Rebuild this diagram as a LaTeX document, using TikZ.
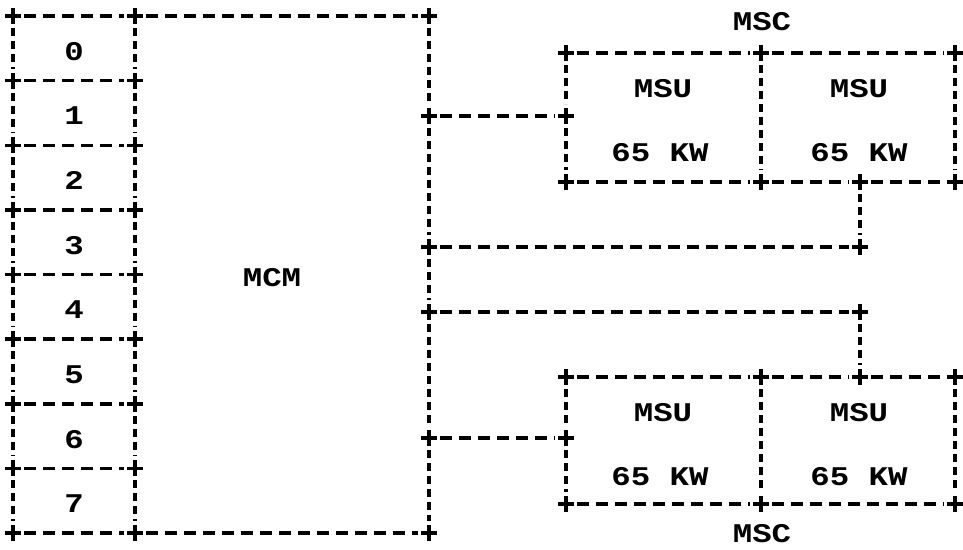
\documentclass[tikz,border=0pt]{standalone}
\usepackage{fontspec}
\newfontfamily\typefont[FakeStretch=1.2]{Liberation Mono}
\begin{document}
\begin{tikzpicture}[x=1pt,y=-1pt,
  hl/.style={line width=3.4pt, dash pattern=on 12pt off 7pt, shorten <=11pt, shorten >=11pt},
  vl/.style={line width=3.4pt, dash pattern=on 8pt off 5pt, shorten <=12pt, shorten >=12pt},
  pm/.style={line width=3.4pt},
  lbl/.style={font=\typefont\bfseries\fontsize{27}{27}\selectfont, inner sep=0pt}]
\useasboundingbox[fill=white] (0,0) rectangle (963,549);
% MCM frame and slot column
\coordinate (mtl) at (13,16);  \coordinate (stop) at (135,16);  \coordinate (mtr) at (429,16);
\coordinate (mbl) at (13,533); \coordinate (sbot) at (135,533); \coordinate (mbr) at (429,533);
\foreach \i/\y in {1/80.6,2/145.3,3/209.9,4/274.5,5/339.1,6/403.8,7/468.4}{
  \coordinate (l\i) at (13,\y); \coordinate (s\i) at (135,\y);}
% connector points on MCM
\coordinate (c1m) at (429,116); \coordinate (c2m) at (429,247);
\coordinate (c3m) at (429,312); \coordinate (c4m) at (429,438);
% top MSC
\coordinate (ttl) at (566,53);  \coordinate (ttm) at (761,53);  \coordinate (ttr) at (955,53);
\coordinate (tbl) at (566,182); \coordinate (tbm) at (761,182); \coordinate (tbc) at (860,182); \coordinate (tbr) at (955,182);
\coordinate (c1s) at (566,116); \coordinate (c2t) at (860,247);
% bottom MSC
\coordinate (btl) at (566,377); \coordinate (btm) at (761,377); \coordinate (btc) at (860,377); \coordinate (btr) at (955,377);
\coordinate (bbl) at (566,504); \coordinate (bbm) at (761,504); \coordinate (bbr) at (955,504);
\coordinate (c4s) at (566,438); \coordinate (c3t) at (860,312);

% horizontal dashed lines
\foreach \a/\b in {mtl/stop,stop/mtr,mbl/sbot,sbot/mbr,l1/s1,l2/s2,l3/s3,l4/s4,l5/s5,l6/s6,l7/s7,
  c1m/c1s,c2m/c2t,c3m/c3t,c4m/c4s,
  ttl/ttm,ttm/ttr,tbl/tbm,tbm/tbc,tbc/tbr,
  btl/btm,btm/btc,btc/btr,bbl/bbm,bbm/bbr}
  \draw[hl] (\a) -- (\b);
% vertical dashed lines
\foreach \a/\b in {mtl/l1,l1/l2,l2/l3,l3/l4,l4/l5,l5/l6,l6/l7,l7/mbl,
  stop/s1,s1/s2,s2/s3,s3/s4,s4/s5,s5/s6,s6/s7,s7/sbot,
  mtr/c1m,c1m/c2m,c2m/c3m,c3m/c4m,c4m/mbr,
  ttl/c1s,c1s/tbl,ttm/tbm,ttr/tbr,tbc/c2t,
  btl/c4s,c4s/bbl,btm/bbm,btr/bbr,c3t/btc}
  \draw[vl] (\a) -- (\b);
% plus marks at junctions
\foreach \p in {mtl,stop,mtr,mbl,sbot,mbr,l1,l2,l3,l4,l5,l6,l7,s1,s2,s3,s4,s5,s6,s7,
  c1m,c2m,c3m,c4m,c1s,c2t,c3t,c4s,
  ttl,ttm,ttr,tbl,tbm,tbc,tbr,btl,btm,btc,btr,bbl,bbm,bbr}
  \draw[pm] (\p) ++(-8,0) -- ++(16,0) (\p) ++(0,-8) -- ++(0,16);

% labels
\foreach \i/\y in {0/51.3,1/116,2/180.6,3/245.2,4/309.8,5/374.4,6/439.1,7/503.7}
  \node[lbl] (slot\i) at (74,\y) {\i};
\node[lbl] (mcm) at (272,278) {MCM};
\node[lbl] (msctop) at (762,22) {MSC};
\node[lbl] (mscbot) at (762,534) {MSC};
\node[lbl] (msu1) at (663,89) {MSU};
\node[lbl] (msu2) at (859,89) {MSU};
\node[lbl] (kw1) at (660,153) {65 KW};
\node[lbl] (kw2) at (859,153) {65 KW};
\node[lbl] (msu3) at (663,413) {MSU};
\node[lbl] (msu4) at (859,413) {MSU};
\node[lbl] (kw3) at (660,477) {65 KW};
\node[lbl] (kw4) at (859,477) {65 KW};
\end{tikzpicture}
\end{document}
